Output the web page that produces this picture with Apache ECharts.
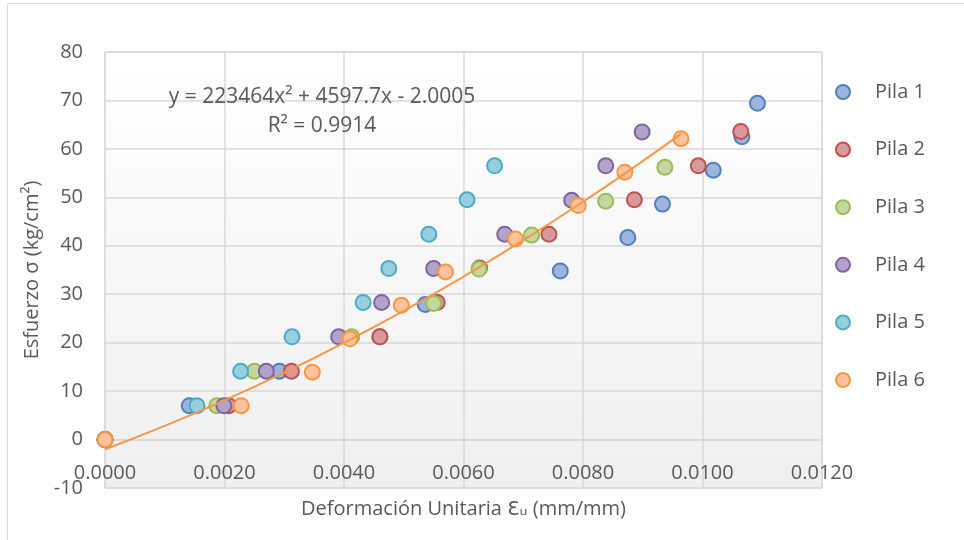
<!DOCTYPE html>
<html>
<head>
<meta charset="utf-8">
<script src="https://cdn.jsdelivr.net/npm/echarts@6/dist/echarts.min.js"></script>
<style>
  html, body { margin: 0; padding: 0; background: #fff; }
  #chart { width: 964px; height: 540px; }
</style>
</head>
<body>
<div id="chart"></div>
<script>
// esfuerzo (kg/cm2) y deformacion unitaria de cada pila
const pila1X = [0, 0.00141, 0.00292, 0.0046, 0.00536, 0.00762, 0.00875, 0.00933, 0.01018, 0.01066, 0.01092]
const pila1Y = [0, 7.0, 14.1, 21.2, 27.9, 34.8, 41.7, 48.6, 55.6, 62.5, 69.4]
const pila2X = [0, 0.00207, 0.00312, 0.0046, 0.00556, 0.00627, 0.00743, 0.00886, 0.00993, 0.01064]
const pila2Y = [0, 7.0, 14.1, 21.2, 28.3, 35.4, 42.4, 49.5, 56.5, 63.6]
const pila3X = [0, 0.00187, 0.0025, 0.00413, 0.0055, 0.00626, 0.00714, 0.00838, 0.00937]
const pila3Y = [0, 7.0, 14.1, 21.2, 28.1, 35.2, 42.2, 49.2, 56.2]
const pila4X = [0, 0.00199, 0.0027, 0.00391, 0.00463, 0.0055, 0.00669, 0.00781, 0.00838, 0.00899]
const pila4Y = [0, 7.0, 14.1, 21.2, 28.3, 35.3, 42.4, 49.4, 56.5, 63.5]
const pila5X = [0, 0.00154, 0.00227, 0.00313, 0.00432, 0.00475, 0.00542, 0.00606, 0.00652]
const pila5Y = [0, 7.0, 14.1, 21.2, 28.3, 35.3, 42.4, 49.5, 56.5]
const pila6X = [0, 0.00228, 0.00347, 0.0041, 0.00496, 0.0057, 0.00687, 0.00792, 0.0087, 0.00964]
const pila6Y = [0, 7.0, 13.9, 20.8, 27.7, 34.6, 41.4, 48.3, 55.2, 62.1]

// tendencia polinomica de la pila 6 (coeficientes de la ecuacion mostrada)
const trendCoef = [223464, 4597.7, -2.0005]
const trendX = [0, 0.001, 0.002, 0.003, 0.004, 0.005, 0.006, 0.007, 0.008, 0.009, 0.00964]

const xTicks = ['0.0000', '0.0020', '0.0040', '0.0060', '0.0080', '0.0100', '0.0120']
const yTicks = [-10, 0, 10, 20, 30, 40, 50, 60, 70, 80]

const seriesNames = ['Pila 1', 'Pila 2', 'Pila 3', 'Pila 4', 'Pila 5', 'Pila 6']
const borderColors = ['#4f81bd', '#c0504d', '#9bbb59', '#8064a2', '#4bacc6', '#f79646']
const fillColors = ['#9db5dc', '#d9999a', '#c4d79f', '#b2a3c9', '#98cfdf', '#fbc29b']

const allX = [pila1X, pila2X, pila3X, pila4X, pila5X, pila6X]
const allY = [pila1Y, pila2Y, pila3Y, pila4Y, pila5Y, pila6Y]

const FONT = '"Open Sans", "DejaVu Sans", sans-serif'
const TXT = '#595959'

var myChart = echarts.init(document.getElementById('chart'))

const scatterSeries = seriesNames.map((name, i) => ({
  name: name,
  type: 'scatter',
  symbol: 'circle',
  symbolSize: 15,
  data: allX[i].map((x, k) => [x, allY[i][k]]),
  itemStyle: {
    color: fillColors[i],
    borderColor: borderColors[i],
    borderWidth: 2,
    opacity: 1,
  },
  z: 2,
}))

const trendData = trendX.map((x) => [x, trendCoef[0] * x * x + trendCoef[1] * x + trendCoef[2]])

let option = {
  animation: false,
  textStyle: { fontFamily: FONT },
  graphic: [
    {
      type: 'rect',
      shape: { x: 7.5, y: 3.5, width: 1000, height: 600 },
      style: { fill: null, stroke: '#d9d9d9', lineWidth: 1 },
      silent: true,
      z: -10,
    },
    {
      type: 'text',
      x: 322,
      y: 97,
      style: {
        text: 'y = 223464x² + 4597.7x - 2.0005',
        fontSize: 21,
        fontFamily: FONT,
        fill: TXT,
        align: 'center',
        verticalAlign: 'middle',
      },
      z: 10,
    },
    {
      type: 'text',
      x: 322,
      y: 126,
      style: {
        text: 'R² = 0.9914',
        fontSize: 21,
        fontFamily: FONT,
        fill: TXT,
        align: 'center',
        verticalAlign: 'middle',
      },
      z: 10,
    },
  ],
  legend: {
    orient: 'vertical',
    left: 835,
    top: 82,
    padding: 0,
    itemWidth: 14,
    itemHeight: 14,
    itemGap: 37.6,
    data: seriesNames,
    textStyle: {
      color: TXT,
      fontSize: 20,
      lineHeight: 20,
      fontFamily: FONT,
      padding: [0, 0, 0, 20],
    },
  },
  grid: {
    left: 105,
    right: 142,
    top: 52,
    bottom: 52,
    outerBoundsMode: 'none',
    containLabel: false,
    show: true,
    borderColor: '#d9d9d9',
    borderWidth: 1,
    backgroundColor: new echarts.graphic.LinearGradient(0, 0, 0, 1, [
      { offset: 0, color: '#ffffff' },
      { offset: 1, color: '#efefef' },
    ]),
  },
  xAxis: {
    type: 'value',
    min: 0,
    max: 0.012,
    interval: 0.002,
    name: 'Deformación Unitaria Ɛᵤ (mm/mm)',
    nameLocation: 'middle',
    nameGap: 11,
    nameTextStyle: { color: TXT, fontSize: 20, fontFamily: FONT },
    axisLine: { onZero: true, lineStyle: { color: '#d9d9d9', width: 2 } },
    axisTick: { show: false },
    axisLabel: {
      color: TXT,
      fontSize: 20,
      fontFamily: FONT,
      margin: -25,
      formatter: (v) => xTicks[Math.round(v / 0.002)],
    },
    splitLine: { lineStyle: { color: '#d9d9d9', width: 1.5 } },
  },
  yAxis: {
    type: 'value',
    min: yTicks[0],
    max: yTicks[yTicks.length - 1],
    interval: 10,
    name: 'Esfuerzo σ (kg/cm²)',
    nameLocation: 'middle',
    nameGap: 63,
    nameTextStyle: { color: TXT, fontSize: 20, fontFamily: FONT },
    axisLine: { show: false },
    axisTick: { show: false },
    axisLabel: { color: TXT, fontSize: 20, fontFamily: FONT, margin: 22 },
    splitLine: { lineStyle: { color: '#d9d9d9', width: 1.5 } },
  },
  series: [
    ...scatterSeries,
    {
      name: 'Polinómica (Pila 6)',
      type: 'line',
      data: trendData,
      smooth: true,
      showSymbol: false,
      lineStyle: { color: '#f79646', width: 2 },
      z: 3,
      silent: true,
    },
  ],
}
myChart.setOption(option)
</script>
</body>
</html>
